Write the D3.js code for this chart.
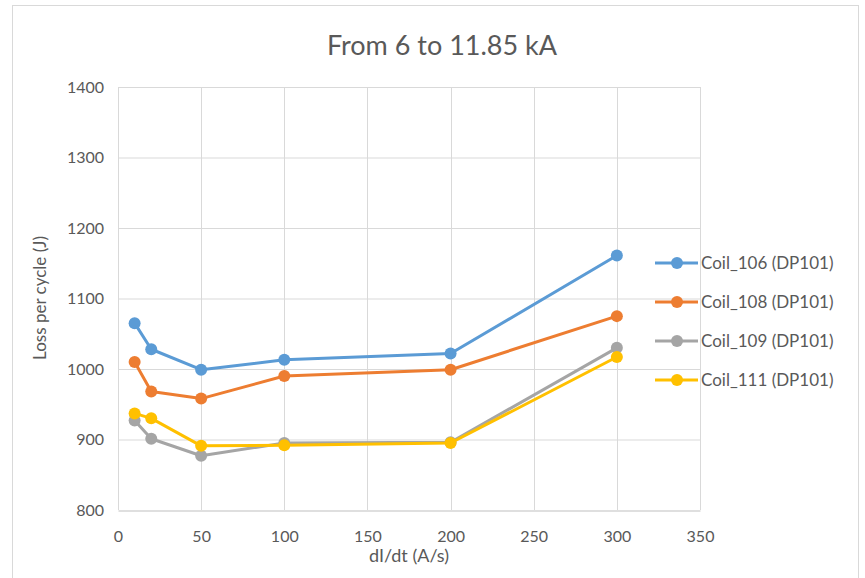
<!DOCTYPE html>
<html>
<head>
<meta charset="utf-8">
<script src="https://cdn.jsdelivr.net/npm/d3@7"></script>
<style>
  body { margin: 0; background: #fff; }
  text { font-family: Lato, "Open Sans", sans-serif; fill: #595959; }
</style>
</head>
<body>
<svg></svg>
<script>
const rates = [10, 20, 50, 100, 200, 300];
const coil106 = [1065, 1028, 999, 1013, 1022, 1161];
const coil108 = [1010, 968, 958, 990, 999, 1075];
const coil109 = [927, 901, 877, 895, 896, 1030];
const coil111 = [937, 930, 891, 892, 895, 1017];
const seriesNames = ['Coil_106 (DP101)', 'Coil_108 (DP101)', 'Coil_109 (DP101)', 'Coil_111 (DP101)'];
const xTicks = [0, 50, 100, 150, 200, 250, 300, 350];
const yTicks = [800, 900, 1000, 1100, 1200, 1300, 1400];

const colors = ['#5b9bd5', '#ed7d31', '#a5a5a5', '#ffc000'];
const series = [coil106, coil108, coil109, coil111].map((vals, i) => ({
    name: seriesNames[i],
    color: colors[i],
    points: vals.map((v, j) => ({x: rates[j], y: v}))
}));

const W = 865, H = 578;
const svg = d3.select('svg').attr('width', W).attr('height', H);

// chart frame
svg.append('rect')
    .attr('x', 12.5).attr('y', 5.5)
    .attr('width', 846).attr('height', 580)
    .attr('fill', '#fff').attr('stroke', '#d9d9d9');

const xScale = d3.scaleLinear().domain([0, 350]).range([118, 700]);
const yScale = d3.scaleLinear().domain([800, 1400]).range([510, 87]);

// gridlines
svg.append('g').selectAll('line').data(yTicks.slice(1))
    .enter().append('line')
    .attr('x1', 118).attr('x2', 700)
    .attr('y1', d => yScale(d) + 0.5).attr('y2', d => yScale(d) + 0.5)
    .attr('stroke', '#d9d9d9');
svg.append('g').selectAll('line').data(xTicks)
    .enter().append('line')
    .attr('x1', d => Math.round(xScale(d)) + 0.5).attr('x2', d => Math.round(xScale(d)) + 0.5)
    .attr('y1', 87).attr('y2', 510)
    .attr('stroke', '#d9d9d9');

// x axis
const xAxis = d3.axisBottom(xScale).tickValues(xTicks).tickSize(0).tickPadding(20);
const gx = svg.append('g').attr('transform', `translate(0,${yScale(800) + 0.5})`).call(xAxis);
gx.select('.domain').attr('stroke', '#bfbfbf');
gx.selectAll('text').attr('font-size', 16).style('fill', '#595959').style('font-family', 'Lato, sans-serif');

// y axis
const yAxis = d3.axisLeft(yScale).tickValues(yTicks).tickFormat(d3.format('d')).tickSize(0).tickPadding(14);
const gy = svg.append('g').attr('transform', 'translate(118,0)').call(yAxis);
gy.select('.domain').remove();
gy.selectAll('text').attr('font-size', 16).style('fill', '#595959').style('font-family', 'Lato, sans-serif');

// title and axis labels
svg.append('text').text('From 6 to 11.85 kA')
    .attr('x', 442).attr('y', 55)
    .attr('text-anchor', 'middle').attr('font-size', 27);
svg.append('text').text('dI/dt (A/s)')
    .attr('x', 409).attr('y', 562)
    .attr('text-anchor', 'middle').attr('font-size', 18);
svg.append('text').text('Loss per cycle (J)')
    .attr('transform', 'translate(46,298) rotate(-90)')
    .attr('text-anchor', 'middle').attr('font-size', 17);

// lines
const line = d3.line().x(d => xScale(d.x)).y(d => yScale(d.y));
const g = svg.append('g');
series.forEach(s => {
    g.append('path').datum(s.points)
        .attr('d', line)
        .attr('fill', 'none')
        .attr('stroke', s.color)
        .attr('stroke-width', 3)
        .attr('stroke-linejoin', 'round');
    g.selectAll(null).data(s.points)
        .enter().append('circle')
        .attr('cx', d => xScale(d.x)).attr('cy', d => yScale(d.y))
        .attr('r', 6)
        .attr('fill', s.color);
});

// legend
const legend = svg.append('g').attr('transform', 'translate(655,263)');
series.forEach((s, i) => {
    const row = legend.append('g').attr('transform', `translate(0,${i * 39})`);
    row.append('line').attr('x1', 0).attr('x2', 43)
        .attr('stroke', s.color).attr('stroke-width', 3);
    row.append('circle').attr('cx', 22).attr('r', 6).attr('fill', s.color);
    row.append('text').text(s.name)
        .attr('x', 46).attr('y', 6).attr('font-size', 17);
});
</script>
</body>
</html>
